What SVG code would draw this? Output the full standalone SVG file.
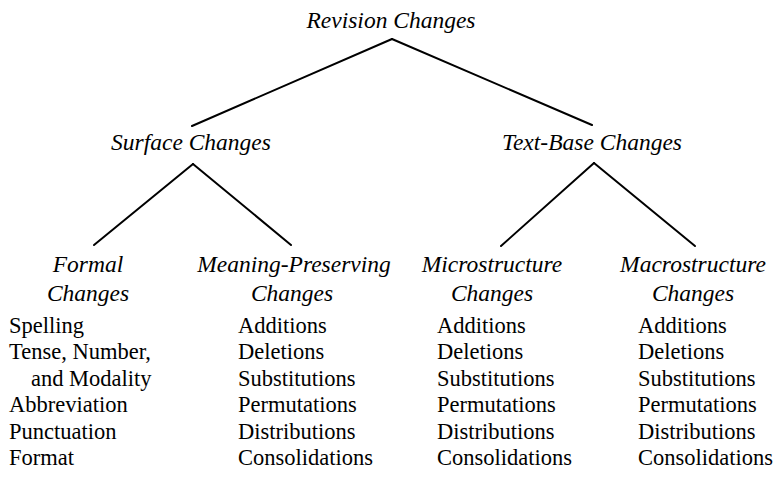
<svg xmlns="http://www.w3.org/2000/svg" width="778" height="479" viewBox="0 0 778 479">
<style>
.h{font-family:"Liberation Serif","Times New Roman",serif;font-style:italic;font-size:23.5px;fill:#000;text-anchor:middle}
.t{font-family:"Liberation Serif","Times New Roman",serif;font-size:22.5px;fill:#000}
.c line{stroke:#000;stroke-width:2;stroke-linecap:round}
</style>
<rect width="778" height="479" fill="#fff"/>
<g class="c" id="connectors">
<line x1="392" y1="39" x2="192" y2="126"/>
<line x1="392" y1="39" x2="592" y2="125"/>
<line x1="193" y1="164" x2="94" y2="245"/>
<line x1="193" y1="164" x2="291" y2="245"/>
<line x1="594" y1="163" x2="501" y2="246"/>
<line x1="594" y1="163" x2="695" y2="246"/>
</g>
<g id="revision"><text class="h" x="391" y="28">Revision Changes</text></g>
<g id="surface"><text class="h" x="191" y="150">Surface Changes</text></g>
<g id="textbase"><text class="h" x="592" y="150">Text-Base Changes</text></g>
<g id="formal">
<text class="h" x="88" y="272">Formal</text>
<text class="h" x="88" y="301">Changes</text>
<text class="t" x="9" y="333">Spelling</text>
<text class="t" x="9" y="359">Tense, Number,</text>
<text class="t" x="31" y="386">and Modality</text>
<text class="t" x="9" y="412">Abbreviation</text>
<text class="t" x="9" y="439">Punctuation</text>
<text class="t" x="9" y="465">Format</text>
</g>
<g id="meaning">
<text class="h" x="294" y="272">Meaning-Preserving</text>
<text class="h" x="292" y="301">Changes</text>
<text class="t" x="238" y="333">Additions</text>
<text class="t" x="238" y="359">Deletions</text>
<text class="t" x="238" y="386">Substitutions</text>
<text class="t" x="238" y="412">Permutations</text>
<text class="t" x="238" y="439">Distributions</text>
<text class="t" x="238" y="465">Consolidations</text>
</g>
<g id="micro">
<text class="h" x="492" y="272">Microstructure</text>
<text class="h" x="492" y="301">Changes</text>
<text class="t" x="437" y="333">Additions</text>
<text class="t" x="437" y="359">Deletions</text>
<text class="t" x="437" y="386">Substitutions</text>
<text class="t" x="437" y="412">Permutations</text>
<text class="t" x="437" y="439">Distributions</text>
<text class="t" x="437" y="465">Consolidations</text>
</g>
<g id="macro">
<text class="h" x="693" y="272">Macrostructure</text>
<text class="h" x="693" y="301">Changes</text>
<text class="t" x="638" y="333">Additions</text>
<text class="t" x="638" y="359">Deletions</text>
<text class="t" x="638" y="386">Substitutions</text>
<text class="t" x="638" y="412">Permutations</text>
<text class="t" x="638" y="439">Distributions</text>
<text class="t" x="638" y="465">Consolidations</text>
</g>
</svg>
